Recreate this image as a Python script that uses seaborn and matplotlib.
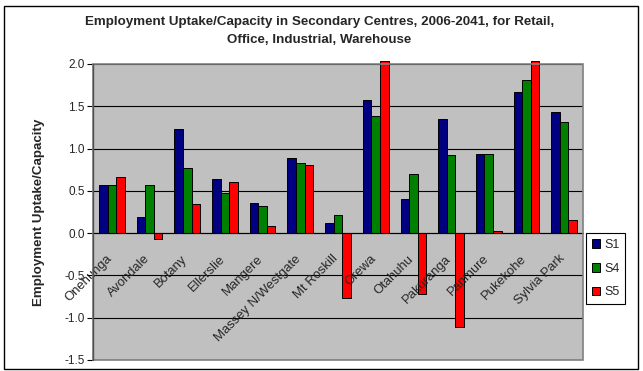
import matplotlib
matplotlib.use('Agg')
import matplotlib.pyplot as plt
import matplotlib.transforms as mtransforms
import seaborn as sns
import pandas as pd
import numpy as np
from matplotlib.patches import Rectangle

# Dados
centres = ['Onehunga', 'Avondale', 'Botany', 'Ellerslie', 'Mangere',
           'Massey N/Westgate', 'Mt Roskill', 'Orewa', 'Otahuhu',
           'Pakuranga', 'Panmure', 'Pukekohe', 'Sylvia Park']
s1 = [0.57, 0.19, 1.23, 0.64, 0.36, 0.89, 0.12, 1.58, 0.40, 1.35, 0.93, 1.67, 1.43]
s4 = [0.57, 0.57, 0.77, 0.47, 0.32, 0.83, 0.21, 1.38, 0.70, 0.92, 0.93, 1.81, 1.31]
s5 = [0.66, -0.07, 0.34, 0.60, 0.08, 0.81, -0.77, 2.04, -0.72, -1.11, 0.02, 2.04, 0.15]
series = ['S1', 'S4', 'S5']
colors = ['#000080', '#008000', '#FF0000']
y_ticks = [-1.5, -1.0, -0.5, 0.0, 0.5, 1.0, 1.5, 2.0]

df = pd.DataFrame({
    'Centre': centres * 3,
    'Value': s1 + s4 + s5,
    'Series': [s for s in series for _ in centres],
})

sns.set_style('white')
plt.rcParams['font.family'] = ['Liberation Sans', 'DejaVu Sans']

fig = plt.figure(figsize=(6.43, 3.71), dpi=100)
ax = fig.add_axes([93 / 643, 1 - 360 / 371, 490 / 643, 296 / 371])

sns.barplot(data=df, x='Centre', y='Value', hue='Series', palette=colors,
            width=0.68, gap=0, edgecolor='black', linewidth=0.7,
            saturation=1, ax=ax)

for p in ax.patches:
    p.set_clip_on(False)

ax.set_facecolor('#C0C0C0')
ax.set_ylim(-1.5, 2.0)
ax.set_xlim(-0.5, len(centres) - 0.5)
ax.set_yticks(y_ticks)
ax.set_yticklabels([f'{v:.1f}' for v in y_ticks], fontsize=8.5)

# grade atrás das barras, rótulos do eixo por cima (como no Excel)
ax.set_axisbelow(False)
for yv in y_ticks:
    ax.axhline(yv, color='black', linewidth=0.8, zorder=0.5)

# eixo x na linha do zero
for s in ['top', 'right', 'left']:
    ax.spines[s].set_visible(False)
ax.spines['bottom'].set_position(('data', 0))
ax.spines['bottom'].set_color('black')
ax.spines['bottom'].set_zorder(5)
ax.add_patch(Rectangle((0, 0), 1, 1, transform=ax.transAxes, fill=False,
                       edgecolor='#808080', linewidth=1.2, zorder=6,
                       clip_on=False))
ax.plot([0, 0], [0, 1], transform=ax.transAxes, color='#505050',
        linewidth=1, zorder=7, clip_on=False)

ax.set_xticks(np.arange(len(centres)))
ax.set_xticklabels(centres, rotation=45, ha='right', va='top',
                   rotation_mode='anchor', fontsize=9.4)
ax.tick_params(axis='x', which='major', length=0, pad=12)
ax.set_xticks(np.arange(len(centres) + 1) - 0.5, minor=True)
ax.tick_params(axis='x', which='minor', length=3, direction='out',
               color='black', width=0.8)
ax.tick_params(axis='y', length=4, direction='out', color='black',
               width=0.8, left=True, pad=2)

# desloca os rótulos um pouco para a esquerda e para baixo
offset = mtransforms.ScaledTranslation(-0.06, -0.03, fig.dpi_scale_trans)
for label in ax.xaxis.get_majorticklabels():
    label.set_transform(label.get_transform() + offset)

ax.set_xlabel('')
ax.set_ylabel('Employment Uptake/Capacity', fontsize=9.6, fontweight='bold')
ax.yaxis.set_label_coords(-0.098, 0.5)

fig.suptitle('Employment Uptake/Capacity in Secondary Centres, 2006-2041, for Retail,\n'
             'Office, Industrial, Warehouse',
             fontsize=9.6, fontweight='bold', x=0.497, y=0.958,
             linespacing=1.7)

leg = ax.legend(loc='upper left', bbox_to_anchor=(586 / 643, 1 - 233 / 371),
                bbox_transform=fig.transFigure, borderaxespad=0,
                frameon=True, fancybox=False, fontsize=9,
                handlelength=0.7, handleheight=0.7, handletextpad=0.3,
                borderpad=0.45, labelspacing=0.95)
leg.get_frame().set_edgecolor('black')
leg.get_frame().set_linewidth(0.8)
leg.get_frame().set_facecolor('white')
leg.get_frame().set_alpha(1)
leg.set_zorder(10)

# moldura da figura
fig.patches.append(Rectangle((4 / 643, 2 / 371), 634 / 643, 363 / 371,
                             transform=fig.transFigure, fill=False,
                             edgecolor='black', linewidth=1))

plt.savefig('out.png', dpi=100)
plt.close()
